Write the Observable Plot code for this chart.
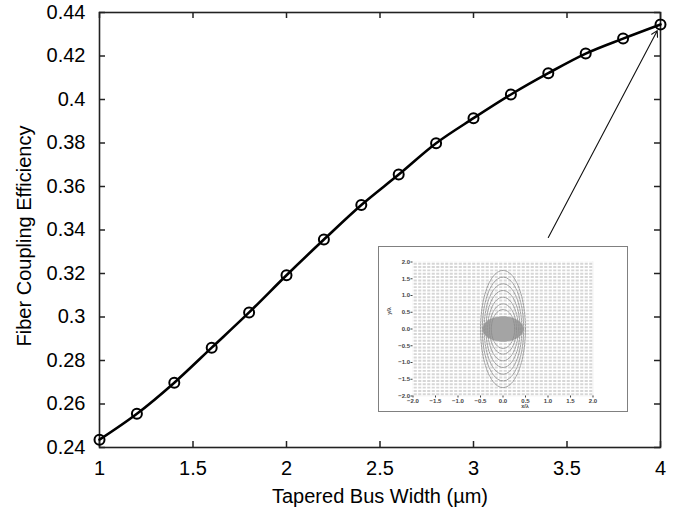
<!DOCTYPE html>
<html><head><meta charset="utf-8">
<script src="https://cdn.jsdelivr.net/npm/d3@7"></script>
<script src="https://cdn.jsdelivr.net/npm/@observablehq/plot@0.6"></script>
<style>
body{margin:0;background:#fff;}
#wrap{position:relative;width:679px;height:518px;font-family:"Liberation Sans",Arial,sans-serif;}
#inset{position:absolute;left:378px;top:246px;width:250px;height:166px;border:1.5px solid #808080;box-sizing:border-box;background:#fff;overflow:hidden;}
#inset svg{display:block;}
</style></head><body><div id="wrap"><div id="main"></div><div id="inset"></div></div>
<script>
// ---- data ----
const busWidth = [1, 1.2, 1.4, 1.6, 1.8, 2, 2.2, 2.4, 2.6, 2.8, 3, 3.2, 3.4, 3.6, 3.8, 4];
const efficiency = [0.2436, 0.2555, 0.2698, 0.2859, 0.3021, 0.3192, 0.3356, 0.3515, 0.3655, 0.3799, 0.3914, 0.4023, 0.4121, 0.4211, 0.4280, 0.4345];
const xTicks = [1, 1.5, 2, 2.5, 3, 3.5, 4];
const yTicks = [0.24, 0.26, 0.28, 0.3, 0.32, 0.34, 0.36, 0.38, 0.4, 0.42, 0.44];
const xTickLabels = ["1", "1.5", "2", "2.5", "3", "3.5", "4"];
const yTickLabels = ["0.24", "0.26", "0.28", "0.3", "0.32", "0.34", "0.36", "0.38", "0.4", "0.42", "0.44"];
const xTitle = "Tapered Bus Width (\u00b5m)";
const yTitle = "Fiber Coupling Efficiency";
const arrowFrom = [3.40, 0.3366];
const arrowTo = [4, 0.4345];

// inset (mode-field contour picture)
const insetTicks = [-2, -1.5, -1, -0.5, 0, 0.5, 1, 1.5, 2];
const insetTickLabels = ["\u22122.0", "\u22121.5", "\u22121.0", "\u22120.5", "0.0", "0.5", "1.0", "1.5", "2.0"];
const insetXTitle = "x/\u03bb";
const insetYTitle = "y/\u03bb";
const contourRx = [0.50, 0.46, 0.42, 0.38, 0.34, 0.30, 0.26];
const contourRy = [1.75, 1.55, 1.35, 1.15, 0.95, 0.75, 0.58];
const spotRx = [0.45];
const spotRy = [0.37];

// ---- main chart ----
const W = 679, H = 518, mL = 99, mR = 19, mT = 12, mB = 71;
const pw = W - mL - mR, ph = H - mT - mB, tk = 6;
const pts = busWidth.map((x, i) => ({x, y: efficiency[i]}));
const xLab = new Map(xTicks.map((t, i) => [t, xTickLabels[i]]));
const yLab = new Map(yTicks.map((t, i) => [t, yTickLabels[i]]));
const font = '"Liberation Sans", Arial, sans-serif';

const main = Plot.plot({
  width: W, height: H,
  marginLeft: mL, marginRight: mR, marginTop: mT, marginBottom: mB,
  x: {domain: [1, 4]},
  y: {domain: [0.24, 0.44]},
  style: {fontFamily: font, fontSize: "20px", color: "#000", background: "#fff"},
  marks: [
    Plot.frame({stroke: "#222", strokeWidth: 1.6}),
    Plot.tickX(xTicks, {x: d => d, insetTop: ph - tk, stroke: "#222", strokeWidth: 1.5}),
    Plot.tickX(xTicks, {x: d => d, insetBottom: ph - tk, stroke: "#222", strokeWidth: 1.5}),
    Plot.tickY(yTicks, {y: d => d, insetRight: pw - tk, stroke: "#222", strokeWidth: 1.5}),
    Plot.tickY(yTicks, {y: d => d, insetLeft: pw - tk, stroke: "#222", strokeWidth: 1.5}),
    Plot.axisX(xTicks, {tickSize: 0, tickPadding: 13, tickFormat: d => xLab.get(d), label: null}),
    Plot.axisY(yTicks, {tickSize: 0, tickPadding: 14, tickFormat: d => yLab.get(d), label: null}),
    Plot.text([xTitle], {text: d => d, frameAnchor: "bottom", textAnchor: "middle", dy: 55, fontSize: 20, fill: "#000"}),
    Plot.text([yTitle], {text: d => d, frameAnchor: "left", textAnchor: "middle", rotate: -90, dx: -75, dy: 6, fontSize: 20, fill: "#000"}),
    Plot.line(pts, {x: "x", y: "y", stroke: "#000", strokeWidth: 2.6, curve: "catmull-rom"}),
    Plot.dot(pts, {x: "x", y: "y", r: 5, stroke: "#000", strokeWidth: 2, fill: "none"}),
    Plot.arrow([{x1: arrowFrom[0], y1: arrowFrom[1], x2: arrowTo[0], y2: arrowTo[1]}],
      {x1: "x1", y1: "y1", x2: "x2", y2: "y2", stroke: "#111", strokeWidth: 1.1, insetEnd: 7, headLength: 9})
  ]
});
document.getElementById("main").appendChild(main);

// ---- inset ----
const ellipse = (rx, ry, id) => d3.range(0, 361, 8).map(a => ({
  id, x: rx * Math.cos(a * Math.PI / 180), y: ry * Math.sin(a * Math.PI / 180)
}));
const contours = contourRx.flatMap((rx, i) => ellipse(rx, contourRy[i], i));
const spot = ellipse(spotRx[0], spotRy[0], 0);
const iLab = new Map(insetTicks.map((t, i) => [t, insetTickLabels[i]]));

const inset = Plot.plot({
  width: 247, height: 163,
  marginLeft: 33.5, marginRight: 33.5, marginTop: 14.5, marginBottom: 14.5,
  x: {domain: [-2, 2]},
  y: {domain: [-2, 2]},
  style: {fontFamily: font, fontSize: "6px", fontWeight: "bold", color: "#444", background: "#fff"},
  marks: [
    Plot.frame({fill: "#d6d6d6", stroke: "#bbb", strokeWidth: 0.6}),
    Plot.gridX({ticks: 40, stroke: "#fff", strokeOpacity: 1, strokeWidth: 1.4}),
    Plot.gridY({ticks: 30, stroke: "#fff", strokeOpacity: 1, strokeWidth: 1.4}),
    Plot.line(spot, {x: "x", y: "y", fill: "#a4a4a4", stroke: "#999", strokeWidth: 0.6}),
    Plot.line(contours, {x: "x", y: "y", z: "id", stroke: "#8a8a8a", strokeWidth: 0.8, strokeDasharray: "2,1"}),
    Plot.axisX(insetTicks, {tickSize: 2, tickPadding: 1, tickFormat: d => iLab.get(d), label: null}),
    Plot.axisY(insetTicks, {tickSize: 2, tickPadding: 1, tickFormat: d => iLab.get(d), label: null}),
    Plot.text([insetXTitle], {text: d => d, frameAnchor: "bottom", textAnchor: "middle", dx: 22, dy: 12, fontSize: 5.5, fill: "#444"}),
    Plot.text([insetYTitle], {text: d => d, frameAnchor: "left", textAnchor: "middle", rotate: -90, dx: -24, dy: -18, fontSize: 5.5, fill: "#444"})
  ]
});
document.getElementById("inset").appendChild(inset);
</script>
</body></html>
